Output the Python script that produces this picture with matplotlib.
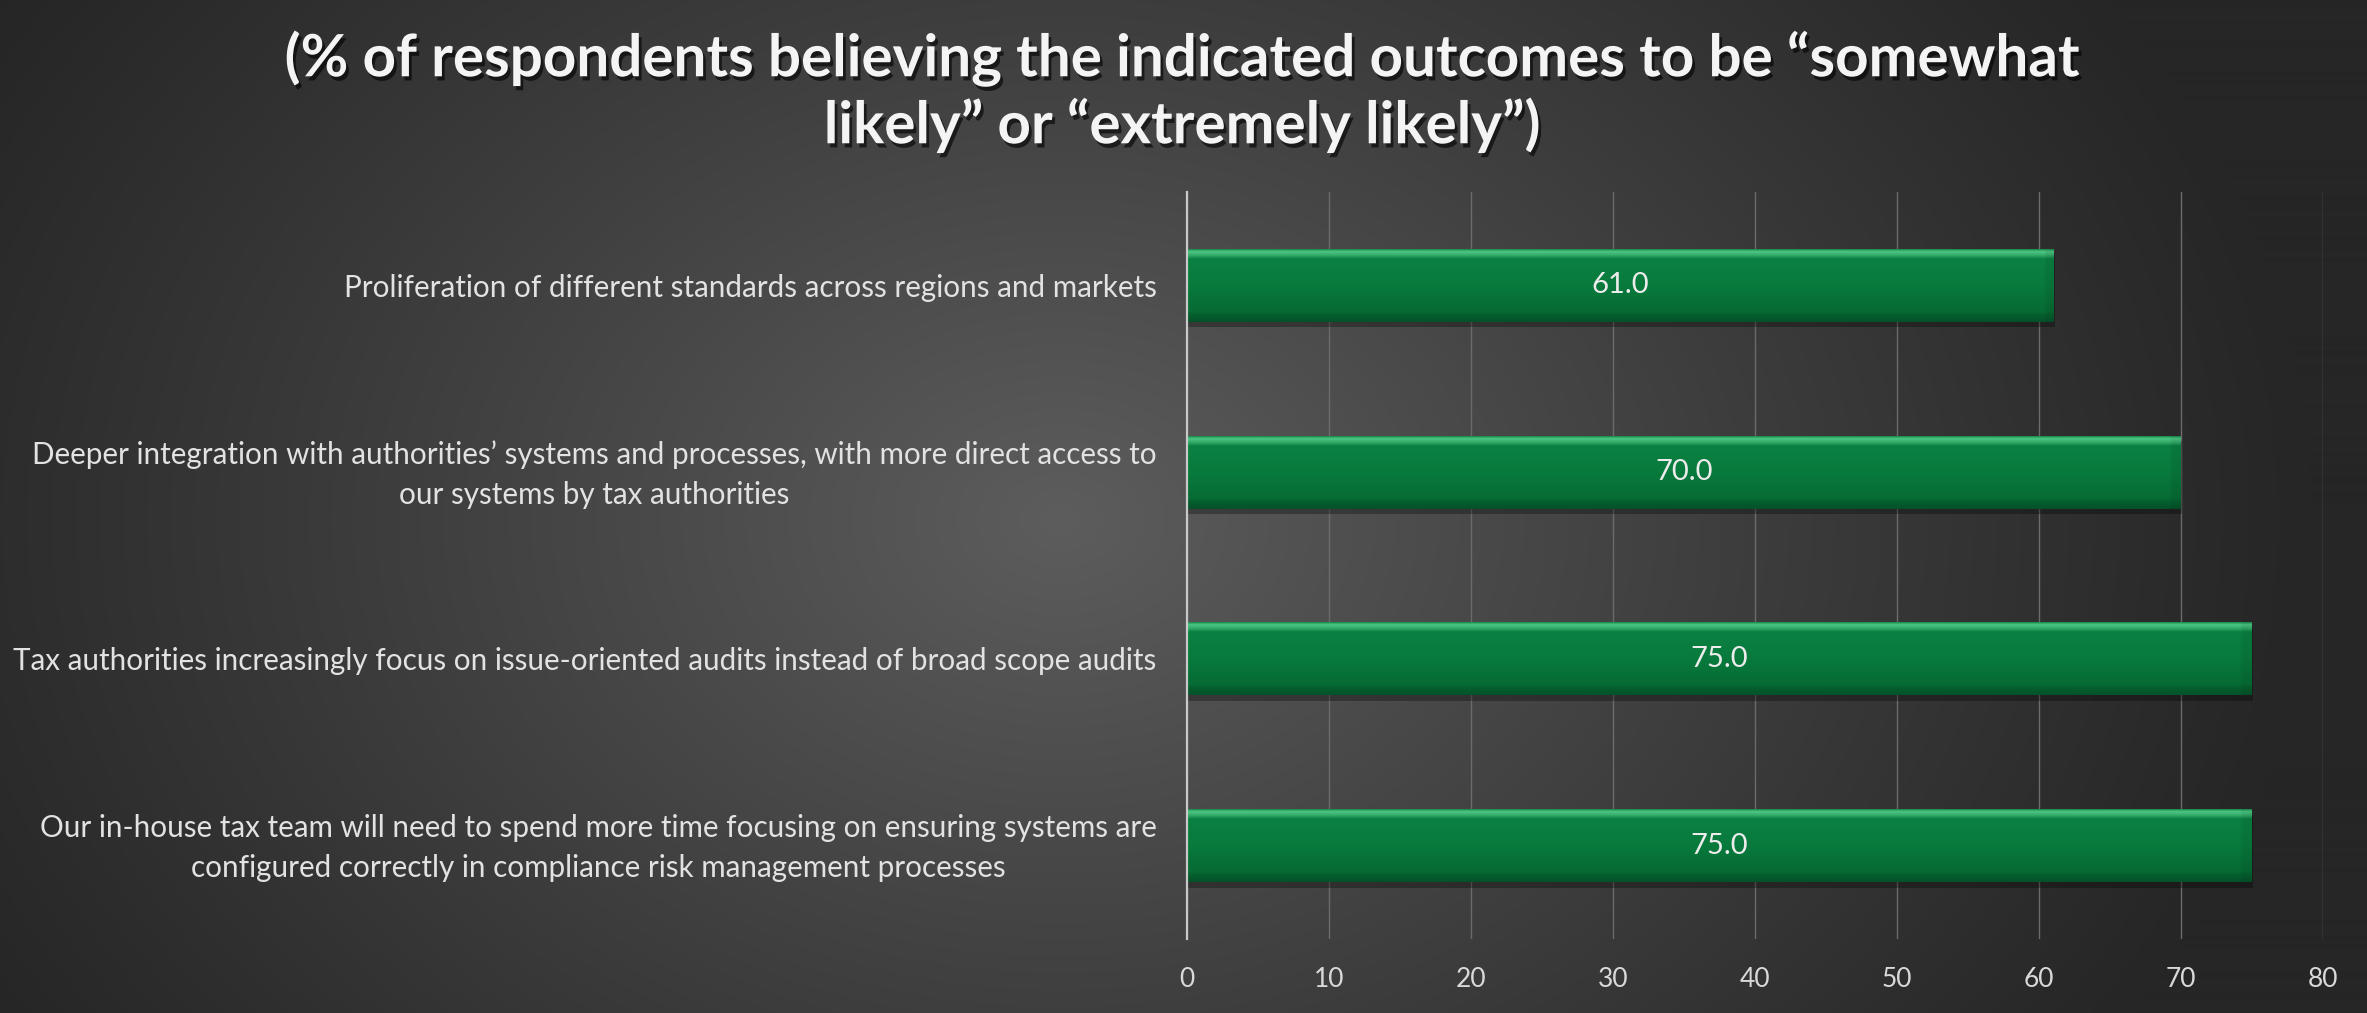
import numpy as np
import matplotlib
matplotlib.use("Agg")
import matplotlib.pyplot as plt
from matplotlib import patheffects as pe
from matplotlib.colors import to_rgb
from matplotlib.transforms import ScaledTranslation

# ---------------- data ----------------
categories = [
    "Our in-house tax team will need to spend more time focusing on ensuring systems are\nconfigured correctly in compliance risk management processes",
    "Tax authorities increasingly focus on issue-oriented audits instead of broad scope audits",
    "Deeper integration with authorities\u2019 systems and processes, with more direct access to\nour systems by tax authorities",
    "Proliferation of different standards across regions and markets",
]
values = [75.0, 75.0, 70.0, 61.0]
x_ticks = [0, 10, 20, 30, 40, 50, 60, 70, 80]
value_labels = [f"{v:.1f}" for v in values]
title = ("(% of respondents believing the indicated outcomes to be \u201csomewhat\n"
         "likely\u201d or \u201cextremely likely\u201d)")

FONT = ["Lato", "DejaVu Sans"]
plt.rcParams["font.family"] = FONT

W, H = 2367, 1013
fig = plt.figure(figsize=(W / 100, H / 100), dpi=100)

# ---------------- background radial gradient ----------------
bg = fig.add_axes([0, 0, 1, 1])
bg.axis("off")
yy, xx = np.mgrid[0:H, 0:W]
r = np.sqrt(((xx - 1060) / 1250.0) ** 2 + ((yy - 520) / 950.0) ** 2)
f = np.clip(1 - r, 0, 1) ** 1.1
light = np.array([0x5d, 0x5d, 0x5d]) / 255
dark = np.array([0x26, 0x26, 0x26]) / 255
img = dark[None, None, :] + (light - dark)[None, None, :] * f[..., None]
bg.imshow(img, extent=[0, 1, 0, 1], aspect="auto", origin="upper")
bg.set_xlim(0, 1)
bg.set_ylim(0, 1)

# ---------------- main axes ----------------
ax = fig.add_axes([0.5015, 0.073, 0.4799, 0.7375])
ax.patch.set_alpha(0)

ypos = np.arange(len(categories))
bars = ax.barh(ypos, values, height=0.39, color="#087a3c", zorder=3,
               path_effects=[pe.SimplePatchShadow(offset=(1, -4), shadow_rgbFace="black", alpha=0.3),
                             pe.Normal()])

# bevel gradient on each bar
n = 100
stops = [(0.00, "#1d8c4e"), (0.03, "#4cc784"), (0.09, "#2fa563"), (0.13, "#0a8142"),
         (0.50, "#087a3c"), (0.86, "#066b34"), (0.90, "#05602e"), (1.00, "#04512a")]
pos = np.linspace(0, 1, n)
cols = np.array([to_rgb(c) for _, c in stops])
sp = np.array([s for s, _ in stops])
prof = np.stack([np.interp(pos, sp, cols[:, k]) for k in range(3)], axis=1)
grad = np.repeat(prof[:, None, :], 300, axis=1)
grad[:, -3:, :] = grad[:, -3:, :] * 0.93
for b in bars:
    x0, y0, w, h = b.get_x(), b.get_y(), b.get_width(), b.get_height()
    im = ax.imshow(grad, extent=[x0, x0 + w, y0, y0 + h], aspect="auto",
                   origin="upper", zorder=4, interpolation="bilinear")
    im.set_clip_path(b)

ax.bar_label(bars, labels=value_labels, label_type="center", color="#ececec",
             fontsize=21, zorder=6)

ax.set_xlim(0, 80)
ax.set_ylim(-0.5, len(categories) - 0.5)
ax.set_xticks(x_ticks)
ax.set_yticks(ypos)
ax.set_yticklabels(categories)
ax.tick_params(axis="x", length=0, pad=20, labelcolor="#d9d9d9", labelsize=19)
ax.tick_params(axis="y", length=0, pad=22, labelcolor="#e2e2e2", labelsize=21.3)
shift_up = ScaledTranslation(0, 0.06, fig.dpi_scale_trans)
for lbl in ax.get_yticklabels():
    lbl.set_multialignment("center")
    lbl.set_linespacing(1.5)
    if "\n" in lbl.get_text():
        lbl.set_transform(lbl.get_transform() + shift_up)
ax.xaxis.grid(True, color="#6b6b6b", linewidth=1.0, zorder=0)
ax.set_axisbelow(True)
for s in ["top", "right", "bottom"]:
    ax.spines[s].set_visible(False)
ax.spines["left"].set_color("#c8c8c8")
ax.spines["left"].set_linewidth(1.6)
ax.spines["left"].set_zorder(5)

# ---------------- title ----------------
fig.text(0.4995, 0.909, title, ha="center", va="center", fontsize=42,
         fontweight="bold", color="#f4f4f4", linespacing=1.25,
         path_effects=[pe.SimplePatchShadow(offset=(2, -3), shadow_rgbFace="black", alpha=0.6),
                       pe.Normal()])

fig.savefig("out.png", dpi=100)
